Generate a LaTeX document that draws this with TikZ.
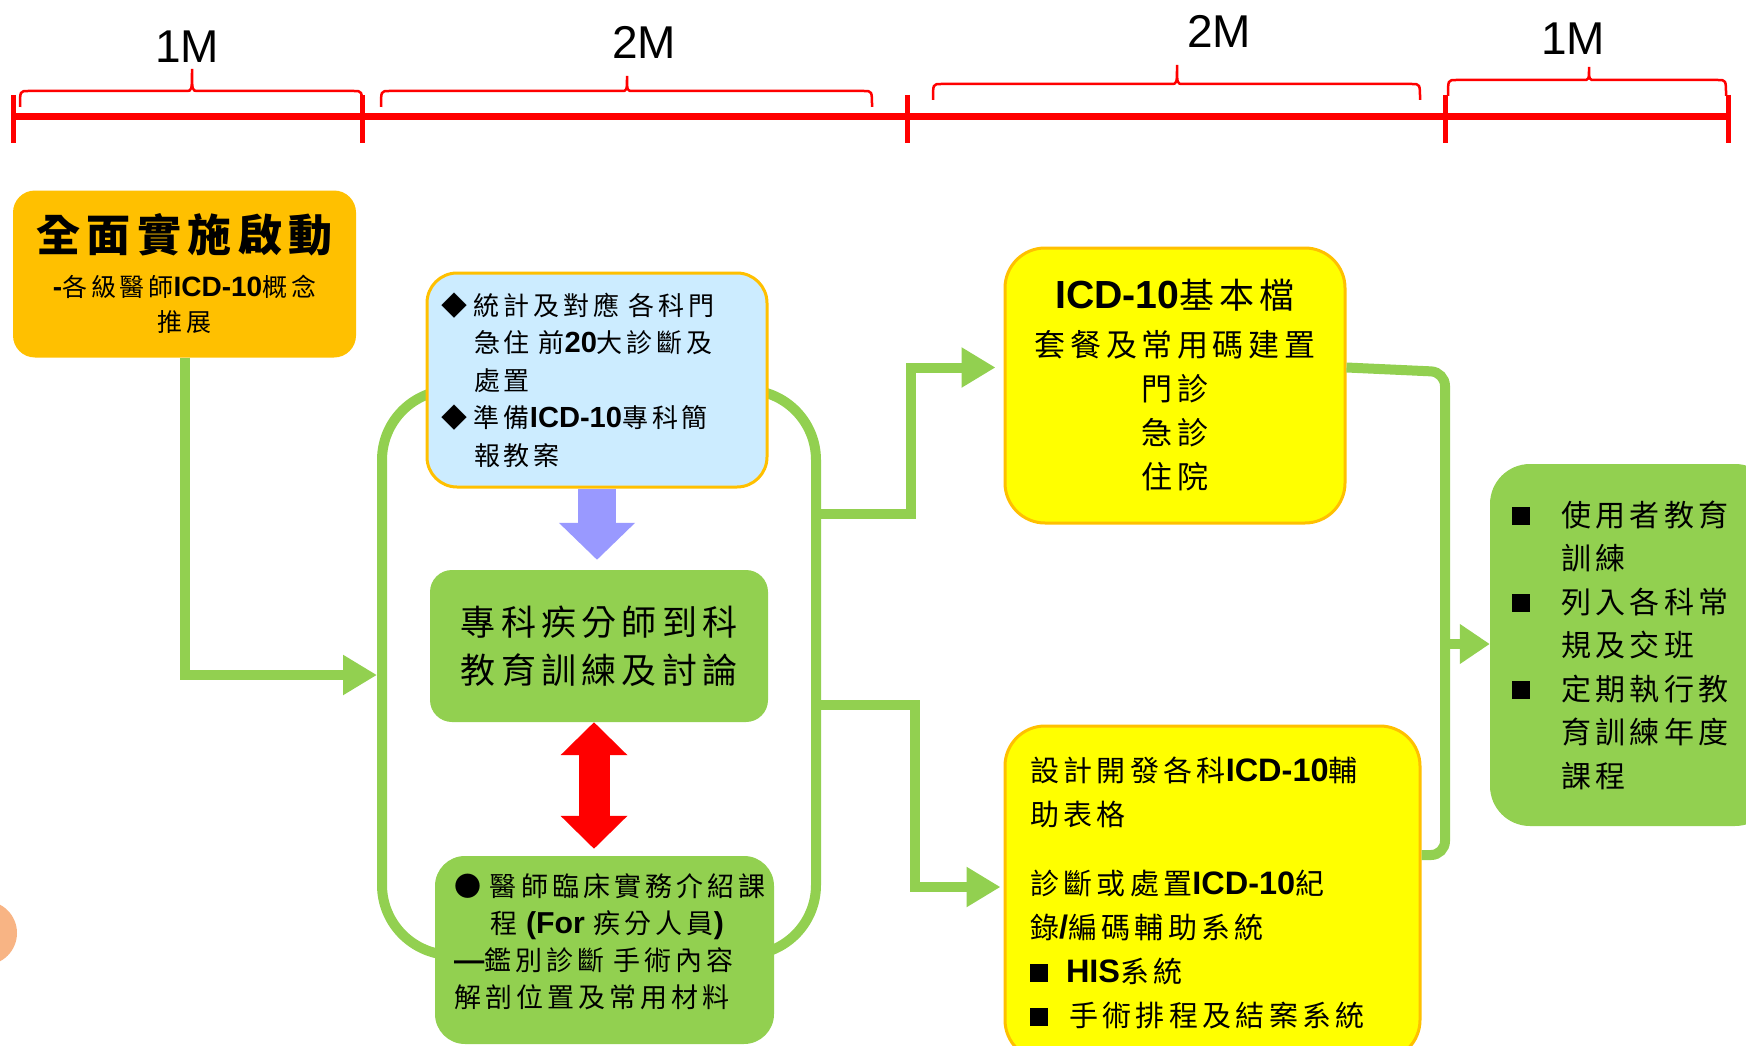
\documentclass[tikz,border=0pt]{standalone}
\usepackage{fontspec}
\setmainfont{Liberation Sans}
\newfontfamily\cjk[LetterSpace=15]{Noto Sans CJK TC}
\newfontfamily\lat[Scale=1.12]{Liberation Sans}
\usetikzlibrary{arrows.meta}

\definecolor{kgreen}{HTML}{92D050}
\definecolor{kgold}{HTML}{FFC000}
\definecolor{kblue}{HTML}{CCECFF}
\definecolor{kyellow}{HTML}{FFFF00}
\definecolor{kpurple}{HTML}{9999FF}
\definecolor{kpeach}{HTML}{F8B484}

\newcommand{\en}[1]{{\lat\bfseries #1}}
\newcommand{\sqbul}{\rule[1pt]{18pt}{18pt}}
% brace over the time bar: x1, x2, y of brace, x and y of its peak
\newcommand{\tlbrace}[5]{\draw[tlbrace] (#1,#3+16) .. controls (#1,#3) .. (#1+8,#3) -- (#4-6,#3) .. controls (#4,#3) .. (#4,#5) .. controls (#4,#3) .. (#4+6,#3) -- (#2-8,#3) .. controls (#2,#3) .. (#2,#3+16);}

\begin{document}
\begin{tikzpicture}[x=1pt,y=-1pt,
  every node/.style={inner sep=0pt},
  tl/.style={red, line width=7pt},
  tick/.style={red, line width=5pt},
  tlbrace/.style={red, line width=2.5pt},
  mlabel/.style={font=\fontsize{46pt}{50pt}\selectfont},
  pipe/.style={kgreen, line width=10pt},
  flow/.style={kgreen, line width=10pt, -{Triangle[length=34pt,width=38pt]}},
  goldbox/.style={fill=kgold, rounded corners=22pt},
  bluebox/.style={fill=kblue, draw=kgold, line width=3pt, rounded corners=30pt},
  greenbox/.style={fill=kgreen, rounded corners=#1},
  yellowbox/.style={fill=kyellow, draw=kgold, line width=3pt, rounded corners=40pt}]

\path[use as bounding box, fill=white] (0,0) rectangle (1746,1046);

% time bar
\draw[tl] (13,117) -- (1728,117);
\foreach \x in {13,362,907,1445,1728}
  \draw[tick] (\x,95) -- (\x,143);
\tlbrace{20}{362}{91}{192}{69}
\tlbrace{381}{872}{91}{627}{76}
\tlbrace{933}{1420}{84}{1177}{65}
\tlbrace{1448}{1726}{80}{1589}{67}
\node[mlabel] (m1) at (187,47) {1M};
\node[mlabel] (m2) at (644,42) {2M};
\node[mlabel] (m3) at (1219,31) {2M};
\node[mlabel] (m4) at (1573,39) {1M};

% loop round the middle column
\draw[pipe, rounded corners=70pt] (382,390) rectangle (816,955);
\coordinate (loopL) at (382,675);
\coordinate (loopR1) at (816,514);
\coordinate (loopR2) at (816,705);

\fill[kpeach] (-15,933) circle (32pt);

\node[goldbox, minimum width=343pt, minimum height=167pt, align=center,
  font=\cjk\fontsize{25pt}{35pt}\selectfont] (start) at (184.5,274)
  {{\bfseries\fontsize{44pt}{50pt}\selectfont 全面實施啟動}\\[10pt]
   \en{-}各級醫師\en{ICD-10}概念\\
   推展};

\node[bluebox, text width=312pt, inner xsep=14pt, minimum height=214pt, align=left,
  font=\cjk\fontsize{26pt}{37.5pt}\selectfont] (prep) at (597,380)
  {\makebox[33pt][l]{◆}統計及對應 各科門\\
   \hspace*{33pt}急住 前\en{20}大診斷及\\
   \hspace*{33pt}處置\\
   \makebox[33pt][l]{◆}準備\en{ICD-10}專科簡\\
   \hspace*{33pt}報教案};

\node[greenbox=22pt, minimum width=338pt, minimum height=152pt, align=center,
  font=\cjk\fontsize{35pt}{48pt}\selectfont] (mid) at (599,646)
  {專科疾分師到科\\教育訓練及討論};

\node[greenbox=30pt, text width=301pt, inner xsep=19pt, minimum height=188pt, align=left,
  font=\cjk\fontsize{27pt}{37pt}\selectfont] (course) at (604.5,950)
  {\makebox[36pt][l]{●}醫師臨床實務介紹課\\
   \hspace*{36pt}程 \en{(For} 疾分人員\en{)}\\
   \en{—}鑑別診斷 手術內容\\
   解剖位置及常用材料\\[-18pt]
   \mbox{}};

\node[yellowbox, minimum width=340pt, minimum height=275pt, align=center,
  font=\cjk\fontsize{31pt}{44pt}\selectfont] (base) at (1175,385.5)
  {{\fontsize{35pt}{44pt}\selectfont\en{ICD-10}基本檔}\\[4pt]
   套餐及常用碼建置\\
   門診\\
   急診\\
   住院};

\node[yellowbox, text width=365pt, inner xsep=25pt, minimum height=334pt, align=left,
  font=\cjk\fontsize{29pt}{44pt}\selectfont] (aux) at (1212.5,893)
  {設計開發各科\en{ICD-10}輔\\
   助表格\\[25pt]
   診斷或處置\en{ICD-10}紀\\
   錄\en{/}編碼輔助系統\\
   \makebox[36pt][l]{\sqbul}\en{HIS}系統\\
   \makebox[39pt][l]{\sqbul}手術排程及結案系統};

\node[greenbox=40pt, text width=241pt, inner xsep=22pt, minimum height=362pt, align=left,
  font=\cjk\fontsize{30pt}{43.5pt}\selectfont] (train) at (1632.5,645)
  {\makebox[49pt][l]{\sqbul}使用者教育\\
   \hspace*{49pt}訓練\\
   \makebox[49pt][l]{\sqbul}列入各科常\\
   \hspace*{49pt}規及交班\\
   \makebox[49pt][l]{\sqbul}定期執行教\\
   \hspace*{49pt}育訓練年度\\
   \hspace*{49pt}課程};

% connectors
\draw[flow, shorten >=5pt] (start.south) |- (loopL);
\draw[flow, shorten >=8pt] (loopR1) -- (911,514) |- ([yshift=18pt]base.west);
\draw[flow, shorten >=3pt] (loopR2) -- (915,705) |- ([yshift=6pt]aux.west);
\draw[pipe, rounded corners=14pt] ([yshift=18pt]base.east) -- (1445,372) -- (1445,855) -- ([yshift=38pt]aux.east);
\coordinate (join) at (1445,644);
\draw[kgreen, line width=10pt, -{Triangle[length=30pt,width=38pt]}] (join) -- (join -| train.west);

\draw[kpurple, line width=38pt, -{Triangle[length=37pt,width=74pt]}, shorten >=10pt]
  (prep.south) -- (prep.south |- mid.north);
\draw[red, line width=31pt, {Triangle[length=33pt,width=65pt]}-{Triangle[length=33pt,width=65pt]}, shorten >=7pt]
  ([xshift=-5pt]mid.south) -- ([xshift=-5pt]mid.south |- course.north);
\end{tikzpicture}
\end{document}
